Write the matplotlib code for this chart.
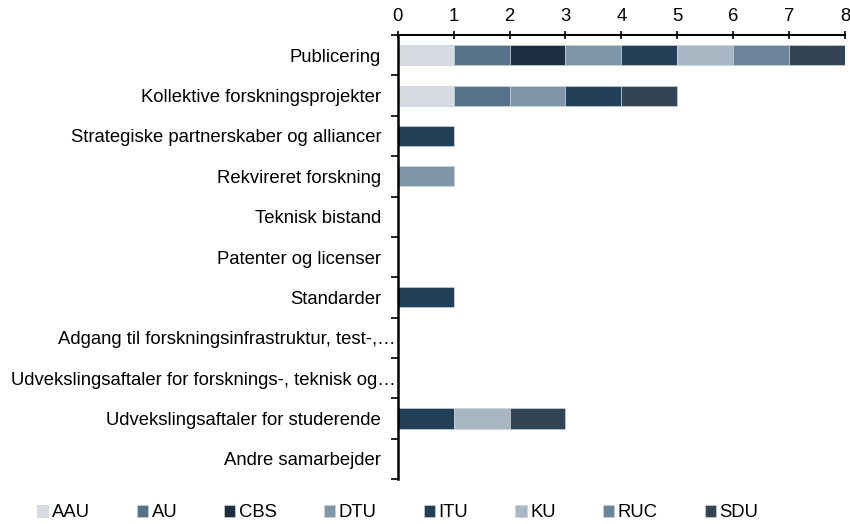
import numpy as np
import matplotlib.pyplot as plt
from matplotlib.ticker import FixedLocator
from matplotlib.transforms import ScaledTranslation

plt.rcParams['font.family'] = ['Liberation Sans', 'DejaVu Sans']

# ---------------------------------------------------
# Data
# ---------------------------------------------------

categories = [
    "Publicering",
    "Kollektive forskningsprojekter",
    "Strategiske partnerskaber og alliancer",
    "Rekvireret forskning",
    "Teknisk bistand",
    "Patenter og licenser",
    "Standarder",
    "Adgang til forskningsinfrastruktur, test-,…",
    "Udvekslingsaftaler for forsknings-, teknisk og…",
    "Udvekslingsaftaler for studerende",
    "Andre samarbejder",
]

universities = ["AAU", "AU", "CBS", "DTU", "ITU", "KU", "RUC", "SDU"]

aau = [1, 1, 0, 0, 0, 0, 0, 0, 0, 0, 0]
au  = [1, 1, 0, 0, 0, 0, 0, 0, 0, 0, 0]
cbs = [1, 0, 0, 0, 0, 0, 0, 0, 0, 0, 0]
dtu = [1, 1, 0, 1, 0, 0, 0, 0, 0, 0, 0]
itu = [1, 1, 1, 0, 0, 0, 1, 0, 0, 1, 0]
ku  = [1, 0, 0, 0, 0, 0, 0, 0, 0, 1, 0]
ruc = [1, 0, 0, 0, 0, 0, 0, 0, 0, 0, 0]
sdu = [1, 1, 0, 0, 0, 0, 0, 0, 0, 1, 0]

colors = ["#D6DCE2", "#557388", "#1B2E42", "#7F95A8",
          "#213F56", "#A9B7C4", "#6B8499", "#334452"]

# ---------------------------------------------------
# Plot
# ---------------------------------------------------

fig = plt.figure(figsize=(8.5, 5.24), dpi=100)
ax = fig.add_axes([0.468, 0.086, 0.526, 0.847])

y = np.arange(len(categories))
left = np.zeros(len(categories))
for name, vals, col in zip(universities, [aau, au, cbs, dtu, itu, ku, ruc, sdu], colors):
    vals = np.array(vals, dtype=float)
    ax.barh(y, vals, left=left, height=0.5, color=col, label=name,
            edgecolor="#c9d0d7", linewidth=0.5)
    left += vals

ax.set_xlim(0, 8)
ax.set_ylim(len(categories) - 0.5, -0.5)
ax.set_xticks(range(0, 9))

ax.xaxis.tick_top()
ax.tick_params(axis="x", direction="inout", length=6, width=1.2, pad=4,
               labelsize=13.3, colors="black")

ax.set_yticks(y)
ax.set_yticklabels(categories)
ax.yaxis.set_minor_locator(FixedLocator(np.arange(-0.5, len(categories), 1)))
ax.tick_params(axis="y", which="major", length=0, pad=12, labelsize=13.3)
ax.tick_params(axis="y", which="minor", direction="out", length=5, width=1.2)

# the truncated labels run right up to the axis
shift = ScaledTranslation(10.5 / 72, 0, fig.dpi_scale_trans)
for lab in ax.get_yticklabels()[7:9]:
    lab.set_transform(lab.get_transform() + shift)

for s in ["right", "bottom"]:
    ax.spines[s].set_visible(False)
ax.spines["left"].set_linewidth(1.8)
ax.spines["top"].set_linewidth(1.5)

fig.legend(loc="center left", bbox_to_anchor=(0.024, 0.021), ncol=8,
           frameon=False, fontsize=13.3, handlelength=0.6, handleheight=0.6,
           handletextpad=0.2, columnspacing=2.55)

plt.savefig("out.png", dpi=100)
